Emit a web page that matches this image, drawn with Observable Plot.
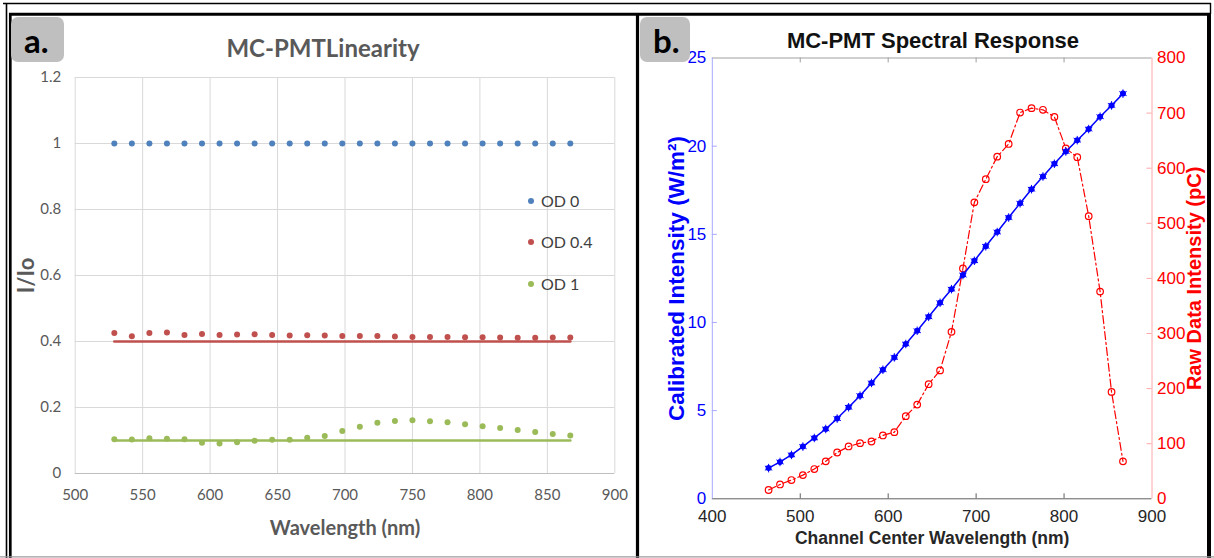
<!DOCTYPE html>
<html>
<head>
<meta charset="utf-8">
<script src="https://cdn.jsdelivr.net/npm/d3@7"></script>
<script src="https://cdn.jsdelivr.net/npm/@observablehq/plot@0.6"></script>
<style>
  html, body { margin: 0; padding: 0; background: #fff; }
  #fig { position: relative; width: 1214px; height: 558px; overflow: hidden; background: #fff; }
  #fig > svg { position: absolute; top: 0; }
</style>
</head>
<body>
<div id="fig"></div>
<script>
// ---------------- data : panel a (MC-PMT linearity) ----------------
const wavelengthsA = [529, 542, 555, 568, 581, 594, 607, 620, 633, 646, 659, 672, 685, 698, 711, 724, 737, 750, 763, 776, 789, 802, 815, 828, 841, 854, 867];
const od0Values  = [1, 1, 1, 1, 1, 1, 1, 1, 1, 1, 1, 1, 1, 1, 1, 1, 1, 1, 1, 1, 1, 1, 1, 1, 1, 1, 1];
const od04Values = [0.426, 0.416, 0.426, 0.427, 0.420, 0.423, 0.420, 0.421, 0.422, 0.420, 0.418, 0.419, 0.418, 0.417, 0.417, 0.417, 0.415, 0.414, 0.414, 0.414, 0.413, 0.413, 0.412, 0.411, 0.411, 0.412, 0.412];
const od1Values  = [0.104, 0.103, 0.107, 0.105, 0.104, 0.093, 0.091, 0.095, 0.099, 0.102, 0.102, 0.108, 0.114, 0.129, 0.142, 0.154, 0.159, 0.161, 0.158, 0.155, 0.149, 0.143, 0.138, 0.132, 0.126, 0.120, 0.115];
const seriesNamesA = ["OD 0", "OD 0.4", "OD 1"];
const theoryNamesA = ["OD 0.4", "OD 1"];
const theoryValuesA = [0.4, 0.1];
const xTicksA = [500, 550, 600, 650, 700, 750, 800, 850, 900];
const yTicksA = [0, 0.2, 0.4, 0.6, 0.8, 1, 1.2];

// ---------------- data : panel b (MC-PMT spectral response) ----------------
const wavelengthsB = [464, 477, 490, 503, 516, 529, 542, 555, 568, 581, 594, 607, 620, 633, 646, 659, 672, 685, 698, 711, 724, 737, 750, 763, 776, 789, 802, 815, 828, 841, 854, 867];
const calibratedIntensity = [1.74, 2.09, 2.49, 2.96, 3.45, 3.96, 4.55, 5.19, 5.85, 6.57, 7.32, 8.02, 8.78, 9.53, 10.32, 11.12, 11.89, 12.69, 13.5, 14.32, 15.13, 15.95, 16.76, 17.56, 18.28, 19.0, 19.7, 20.34, 20.97, 21.67, 22.31, 22.98];
const rawIntensityPC = [16, 26, 34, 43, 54, 68, 84, 95, 101, 104, 115, 121, 150, 171, 208, 233, 303, 418, 538, 580, 621, 644, 701, 709, 706, 693, 636, 620, 513, 376, 194, 68];
const xTicksB = [400, 500, 600, 700, 800, 900];
const yTicksB = [0, 5, 10, 15, 20, 25];
const yTicksRaw = [0, 100, 200, 300, 400, 500, 600, 700, 800];

// ---------------- styles ----------------
const colorsA = ["#4f81bd", "#c0504d", "#9bbb59"];
const gray = "#595959";
const blue = "#0000ff", red = "#ff0000";
const fontA = "Lato, 'Open Sans', sans-serif";
const fontB = "'Liberation Sans', Arial, Helvetica, sans-serif";

const fig = document.getElementById("fig");

// ---------------- panel a ----------------
const dotsA = wavelengthsA.flatMap((w, i) => [
  {w, v: od0Values[i], s: seriesNamesA[0]},
  {w, v: od04Values[i], s: seriesNamesA[1]},
  {w, v: od1Values[i], s: seriesNamesA[2]}
]);
const theoryA = theoryNamesA.flatMap((s, j) => wavelengthsA.map(w => ({w, v: theoryValuesA[j], s})));

const plotA = Plot.plot({
  width: 636, height: 558,
  marginLeft: 74.7, marginRight: 21.7, marginTop: 77, marginBottom: 85,
  style: {fontFamily: fontA, fontSize: "15px", background: "transparent", overflow: "visible", color: gray},
  x: {domain: [xTicksA[0], xTicksA[xTicksA.length - 1]]},
  y: {domain: [yTicksA[0], yTicksA[yTicksA.length - 1]]},
  color: {domain: seriesNamesA, range: colorsA},
  marks: [
    Plot.gridX(xTicksA, {stroke: "#d9d9d9", strokeOpacity: 1}),
    Plot.gridY(yTicksA.slice(1), {stroke: "#d9d9d9", strokeOpacity: 1}),
    Plot.ruleY([yTicksA[0]], {stroke: "#bfbfbf"}),
    Plot.axisX(xTicksA, {tickSize: 0, tickPadding: 16, fill: gray, label: null}),
    Plot.axisY(yTicksA, {tickSize: 0, tickPadding: 14, fill: gray, label: null, tickFormat: d => String(+d.toFixed(1))}),
    Plot.line(theoryA, {x: "w", y: "v", z: "s", stroke: "s", strokeWidth: 2.6}),
    Plot.dot(dotsA, {x: "w", y: "v", fill: "s", r: 3}),
    Plot.text(["Wavelength (nm)"], {text: d => d, frameAnchor: "bottom", textAnchor: "middle", dy: 61, fontFamily: fontA, fontWeight: "bold", fontSize: 20, fill: gray}),
    Plot.text(["I/Io"], {text: d => d, frameAnchor: "left", textAnchor: "middle", dx: -48, rotate: -90, fontFamily: fontA, fontWeight: "bold", fontSize: 22, fill: gray})
  ]
});
plotA.style.left = "0px";
fig.appendChild(plotA);

// ---------------- panel b ----------------
const k = yTicksB[yTicksB.length - 1] / yTicksRaw[yTicksRaw.length - 1];
const rowsB = wavelengthsB.map((w, i) => ({w, cal: calibratedIntensity[i], raw: rawIntensityPC[i] * k}));
const mB = {left: 71.8, right: 55.5, top: 57.5, bottom: 59.7, width: 567, height: 558};
const innerHB = mB.height - mB.top - mB.bottom;
const innerWB = mB.width - mB.left - mB.right;

const plotB = Plot.plot({
  width: mB.width, height: mB.height,
  marginLeft: mB.left, marginRight: mB.right, marginTop: mB.top, marginBottom: mB.bottom,
  style: {fontFamily: fontB, fontSize: "17px", background: "transparent", overflow: "visible"},
  x: {domain: [xTicksB[0], xTicksB[xTicksB.length - 1]]},
  y: {domain: [yTicksB[0], yTicksB[yTicksB.length - 1]]},
  marks: [
    Plot.ruleY([yTicksB[yTicksB.length - 1]], {stroke: "#a0a0a0"}),
    Plot.ruleY([yTicksB[0]], {stroke: "#606060"}),
    Plot.tickX(xTicksB.slice(1, -1), {x: d => d, insetBottom: innerHB - 5, stroke: "#a0a0a0"}),
    Plot.tickX(xTicksB.slice(1, -1), {x: d => d, insetTop: innerHB - 5, stroke: "#606060"}),
    Plot.ruleX([xTicksB[0]], {stroke: "#a8a8ff"}),
    Plot.ruleX([xTicksB[xTicksB.length - 1]], {stroke: "#ffa8a8"}),
    Plot.tickY(yTicksB.slice(1, -1), {y: d => d, insetRight: innerWB - 5, stroke: "#a8a8ff"}),
    Plot.tickY(yTicksRaw.slice(1, -1).map(v => v * k), {y: d => d, insetLeft: innerWB - 5, stroke: "#ffa8a8"}),
    Plot.axisX(xTicksB, {tickSize: 0, tickPadding: 11, fill: "#262626", label: null}),
    Plot.axisY(yTicksB, {anchor: "left", tickSize: 0, tickPadding: 6, fill: blue, label: null}),
    Plot.axisY(yTicksRaw.map(v => v * k), {anchor: "right", tickSize: 0, tickPadding: 5, fill: red, label: null, tickFormat: d => String(Math.round(d / k))}),
    Plot.line(rowsB, {x: "w", y: "raw", stroke: red, strokeWidth: 1.2, strokeDasharray: "8,3,2,3"}),
    Plot.dot(rowsB, {x: "w", y: "raw", stroke: red, fill: "none", r: 3.3, strokeWidth: 1.2}),
    Plot.line(rowsB, {x: "w", y: "cal", stroke: blue, strokeWidth: 1.5}),
    Plot.dot(rowsB, {x: "w", y: "cal", fill: blue, r: 3}),
    Plot.dot(rowsB, {x: "w", y: "cal", symbol: "asterisk", stroke: blue, r: 4, strokeWidth: 1}),
    Plot.text(["Channel Center Wavelength (nm)"], {text: d => d, frameAnchor: "bottom", textAnchor: "middle", dy: 45.5, fontWeight: "bold", fontSize: 17.5, fill: "#262626"}),
    Plot.text(["Calibrated Intensity (W/m²)"], {text: d => d, frameAnchor: "left", textAnchor: "middle", dx: -36, rotate: -90, fontWeight: "bold", fontSize: 22.5, fill: blue}),
    Plot.text(["Raw Data Intensity (pC)"], {text: d => d, frameAnchor: "right", textAnchor: "middle", dx: 43, rotate: -90, fontWeight: "bold", fontSize: 20, fill: red})
  ]
});
plotB.style.left = "640px";
fig.appendChild(plotB);

// ---------------- overlay: frame, panel tags, titles, legend ----------------
const ov = d3.select(fig).append("svg")
  .attr("width", 1214).attr("height", 558)
  .style("left", "0px").style("pointer-events", "none");

const line = (x1, y1, x2, y2, w, c) => ov.append("line")
  .attr("x1", x1).attr("y1", y1).attr("x2", x2).attr("y2", y2)
  .attr("stroke", c || "#000").attr("stroke-width", w);
line(3, 3.5, 1211, 3.5, 1.4);
line(1210.5, 3, 1210.5, 14, 1.4);
line(6.5, 3, 6.5, 558, 1.6);
line(9, 14.2, 1211, 14.2, 3);
line(10.3, 13, 10.3, 558, 2.7);
line(637.5, 13, 637.5, 558, 3.2);
line(1209, 13, 1209, 558, 4);
line(0, 556.8, 1214, 556.8, 1.2, "#9a9a9a");

// panel tags
[["a.", 11, 53, 24], ["b.", 640, 50, 653]].forEach(([t, x, w, tx]) => {
  ov.append("rect").attr("x", x).attr("y", 17).attr("width", w).attr("height", 45)
    .attr("rx", 7).attr("fill", "#bfbfbf");
  ov.append("text").attr("x", tx).attr("y", 53).text(t)
    .attr("font-family", fontA).attr("font-weight", "bold").attr("font-size", 33).attr("fill", "#000");
});

// titles
ov.append("text").attr("x", 323).attr("y", 56.5).attr("text-anchor", "middle")
  .attr("font-family", fontA).attr("font-weight", "bold").attr("font-size", 24).attr("fill", gray)
  .text("MC-PMTLinearity");
ov.append("text").attr("x", 933).attr("y", 48.3).attr("text-anchor", "middle")
  .attr("font-family", fontB).attr("font-weight", "bold").attr("font-size", 22).attr("fill", "#111")
  .text("MC-PMT Spectral Response");

// legend for panel a
const legendY = [201, 242, 284];
seriesNamesA.forEach((name, i) => {
  ov.append("circle").attr("cx", 531).attr("cy", legendY[i]).attr("r", 3).attr("fill", colorsA[i]);
  ov.append("text").attr("x", 541).attr("y", legendY[i]).attr("dy", "0.35em")
    .attr("font-family", fontA).attr("font-size", 16).attr("fill", "#404040").text(name);
});
</script>
</body>
</html>
